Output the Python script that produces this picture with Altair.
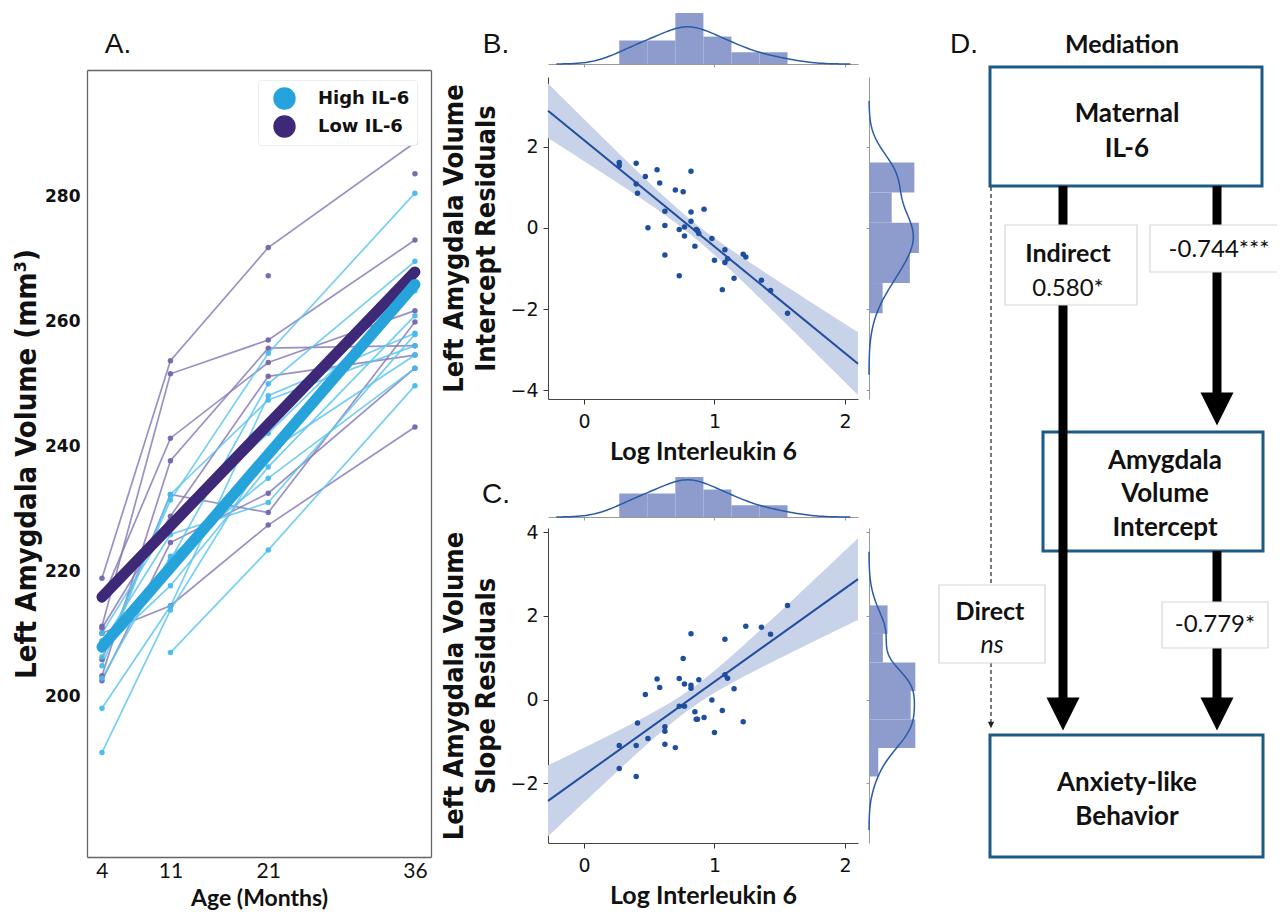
import altair as alt
import numpy as np
import pandas as pd

W, H = 1269, 906

# ---------------- Panel A: amygdala volume trajectories ----------------
ages = [4, 11, 21, 36]
groups = ["High IL-6", "Low IL-6"]
high_il6_volumes = [
    [206.4, 231.5, 255.0, 280.6],
    [209.0, 221.9, 250.1, 269.7],
    [198.2, 214.5, 248.2, 258.2],
    [191.1, 213.9, 239.2, 254.7],
    [205.0, 232.4, 247.5, 256.2],
    [207.5, 217.8, 236.8, 261.0],
    [None, 207.1, 223.5, 249.8],
    [210.2, 228.0, 242.2, 265.0],
    [203.0, 222.5, 235.0, 252.6],
    [208.5, 226.0, 231.1, 258.0],
]
low_il6_volumes = [
    [219.0, 253.8, 271.9, 288.7],
    [211.3, 251.7, 257.1, 273.1],
    [215.5, 241.4, 253.5, 261.8],
    [203.4, 237.8, 255.8, 256.2],
    [211.0, 228.9, 251.3, 254.7],
    [202.6, 224.7, 232.6, 252.6],
    [210.2, 214.6, 227.5, 243.2],
    [206.0, 232.4, 229.5, 260.0],
    [None, None, 267.4, None],
    [None, None, None, 283.7],
]
mean_ages = [4, 36]
high_il6_mean = [208.0, 266.0]
low_il6_mean = [216.0, 268.0]

# ---------------- Panels B & C: residuals vs log IL-6 ----------------
log_il6 = [0.27, 0.27, 0.40, 0.40, 0.41, 0.47, 0.49, 0.56, 0.58, 0.62, 0.62, 0.62, 0.70,
           0.73, 0.73, 0.76, 0.77, 0.77, 0.82, 0.82, 0.82, 0.85, 0.86, 0.87, 0.88, 0.92,
           0.98, 1.00, 1.06, 1.08, 1.08, 1.10, 1.15, 1.22, 1.24, 1.36, 1.43, 1.56]
intercept_residuals = [1.61, 1.53, 1.59, 1.08, 0.85, 1.26, 0.00, 1.43, 1.10, 0.41, 0.06, -0.67, 0.93,
                       -0.04, -1.18, 0.89, -0.20, 0.02, 1.39, 0.39, 0.16, -0.45, -0.04, -0.07, -0.14, 0.46,
                       -0.26, -0.80, -1.52, -0.54, -0.85, -0.76, -1.24, -0.65, -0.72, -1.29, -1.54, -2.10]
slope_residuals = [-1.10, -1.65, -1.10, -1.84, -0.56, 0.12, -0.93, 0.49, 0.29, -0.65, -0.76, -1.07, -1.15,
                   0.50, -0.16, 0.98, -0.16, 0.37, 1.57, 0.34, 0.27, -0.29, -0.47, -0.47, 0.47, -0.43,
                   -0.01, -0.79, -0.26, 1.44, 0.59, 0.51, 0.26, -0.53, 1.75, 1.73, 1.56, 2.25]
hist_bins_x = 6
hist_bins_intercept = 5
hist_bins_slope = 6

# ---------------- Panel D: mediation diagram text ----------------
panel_letters = ["A.", "B.", "C.", "D."]
mediation_title = ["Mediation"]
node_lines = [["Maternal", "IL-6"], ["Amygdala", "Volume", "Intercept"], ["Anxiety-like", "Behavior"]]
path_names = ["Indirect", "Direct"]
path_values = ["0.580*", "-0.744***", "-0.779*"]
direct_value = ["ns"]

# ---------------- layout (reference page pixels) ----------------
LETTER_POS = [(118, 45), (496, 45), (496, 495), (964, 45)]
D_TITLE_POS = [(1122, 45)]
D_BOXES = [(990, 1262, 67, 186), (1043, 1263, 432, 551), (990, 1263, 735, 857)]
D_NODE_TEXT_POS = [[(1127, 114), (1127, 149)], [(1165, 461), (1165, 494), (1165, 528)],
                   [(1127, 783), (1127, 817)]]
D_SHAFTS = [(1063, 186, 700), (1217, 186, 395), (1217, 551, 700)]
D_HEADS = [(1063, 714), (1217, 409), (1217, 714)]
D_DASH = [(991, 187, 722)]
D_DASH_HEAD = [(991, 725)]
D_LABEL_BOXES = [(1005, 1137, 225, 305), (1150, 1283, 225, 272), (939, 1045, 585, 663),
                 (1162, 1268, 602, 648)]
D_NAME_POS = [(1068, 254), (990, 612)]
D_VALUE_POS = [(1068, 289), (1219, 250), (1215, 625)]
D_NS_POS = [(992, 645)]

NARROW = "Liberation Sans Narrow, DejaVu Sans Condensed, Roboto Condensed, Roboto"
SANS = "Lato"
MPL = "DejaVu Sans"


def lin(dom, rng, clamp=False):
    if clamp:
        return alt.Scale(domain=dom, range=rng, zero=False, nice=False, clamp=True)
    return alt.Scale(domain=dom, range=rng, zero=False, nice=False)


def rng(a, b):
    return [a - 8, b - 8]


def off_left(px):
    return -(px - 8)


def off_bottom(py):
    return (py - 8) - H


def off_top(py):
    return -(py - 8)


def off_right(px):
    return (px - 8) - W


PX = lin([8, 8 + W], [0, W])
PY = lin([8, 8 + H], [0, H])

A_X = ([2.47, 37.64], rng(87, 431))
A_Y = ([174.4, 300.3], rng(857, 70))
BC_X = ([-0.276, 2.10], rng(548, 858))
B_Y = ([-4.21, 3.71], rng(399, 77))
C_Y = ([-3.43, 4.10], rng(843, 528))
BTOP_Y = ([0, 1.75], rng(64, 8))
CTOP_Y = ([0, 1.25], rng(517, 477))
BRIGHT_X = ([0, 0.45], rng(869, 926.6))
CRIGHT_X = ([0, 0.45], rng(869, 923))

layers = []

# ====================== Panel A ======================
rowsA = []
for grp, subjects in ((groups[1], low_il6_volumes), (groups[0], high_il6_volumes)):
    for i, vols in enumerate(subjects):
        for a, v in zip(ages, vols):
            if v is not None:
                rowsA.append({"subject": f"{grp}-{i}", "group": grp, "age": a, "volume": v})
dfA = pd.DataFrame(rowsA)
meanA = pd.DataFrame({"group": [groups[1]] * 2 + [groups[0]] * 2,
                      "age": mean_ages * 2,
                      "volume": low_il6_mean + high_il6_mean})

axA_x = alt.Axis(values=ages, orient="bottom", offset=off_bottom(857), tickSize=0, labelPadding=3,
                 labelFont=SANS, labelFontSize=21, labelColor="#111", domainColor="#666",
                 domainWidth=1.3, title="Age (Months)", titleFont=SANS, titleFontSize=23,
                 titleFontWeight="bold", titleColor="#111", titlePadding=6, grid=False)
axA_y = alt.Axis(values=[200, 220, 240, 260, 280], orient="left", offset=off_left(87), tickSize=0,
                 labelPadding=7, labelFont=MPL, labelFontWeight="bold", labelFontSize=17,
                 labelColor="#111", domainColor="#666", domainWidth=1.3,
                 title="Left Amygdala Volume (mm³)", titleFont=NARROW, titleFontSize=29,
                 titleFontWeight="bold", titleColor="#111", titlePadding=3, grid=False)
axA_top = alt.Axis(orient="top", offset=off_top(70), labels=False, ticks=False, title=None,
                   domainColor="#666", domainWidth=1.3, grid=False)
axA_right = alt.Axis(orient="right", offset=off_right(431), labels=False, ticks=False, title=None,
                     domainColor="#666", domainWidth=1.3, grid=False)

layers.append(alt.Chart(dfA).mark_line(strokeWidth=1.7, opacity=0.85).encode(
    x=alt.X("age:Q", scale=lin(*A_X), axis=axA_x),
    y=alt.Y("volume:Q", scale=lin(*A_Y), axis=axA_y),
    detail="subject:N",
    color=alt.Color("group:N", scale=alt.Scale(domain=groups, range=["#5ec5f0", "#8a7dba"]), legend=None),
))
layers.append(alt.Chart(dfA).mark_circle(size=30, opacity=0.95).encode(
    x=alt.X("age:Q", scale=lin(*A_X), axis=None),
    y=alt.Y("volume:Q", scale=lin(*A_Y), axis=None),
    color=alt.Color("group:N", scale=alt.Scale(domain=groups, range=["#46bbee", "#7565ad"]), legend=None),
))
layers.append(alt.Chart(meanA).mark_line(strokeWidth=11, strokeCap="round").encode(
    x=alt.X("age:Q", scale=lin(*A_X), axis=None),
    y=alt.Y("volume:Q", scale=lin(*A_Y), axis=None),
    detail="group:N",
    color=alt.Color("group:N", scale=alt.Scale(domain=groups, range=["#27a3dc", "#3d2977"]), legend=None),
))
layers.append(alt.Chart(meanA).mark_circle(size=80, opacity=1).encode(
    x=alt.X("age:Q", scale=lin(*A_X), axis=axA_top),
    y=alt.Y("volume:Q", scale=lin(*A_Y), axis=axA_right),
    color=alt.Color("group:N", scale=alt.Scale(domain=groups, range=["#27a3dc", "#3d2977"]),
                    legend=alt.Legend(orient="none", legendX=250, legendY=72, title=None,
                                      symbolType="circle", symbolSize=500, symbolStrokeWidth=0,
                                      symbolOpacity=1, labelFont=MPL, labelFontWeight="bold",
                                      labelFontSize=18, labelColor="#111", labelOffset=22,
                                      rowPadding=5, padding=7, symbolOffset=8,
                                      strokeColor="#ececec", fillColor="white", cornerRadius=3)),
))


# ====================== Panels B & C ======================
def ci_band(x, y, lo, hi, n=80):
    x = np.asarray(x, float)
    y = np.asarray(y, float)
    b, a = np.polyfit(x, y, 1)
    xs = np.linspace(lo, hi, n)
    fit = a + b * xs
    s = np.sqrt(((y - (a + b * x)) ** 2).sum() / (len(x) - 2))
    se = s * np.sqrt(1 / len(x) + (xs - x.mean()) ** 2 / ((x - x.mean()) ** 2).sum())
    return pd.DataFrame({"x": xs, "lo": fit - 2.03 * se, "hi": fit + 2.03 * se})


def hist_df(v, bins):
    counts, edges = np.histogram(np.asarray(v, float), bins=bins)
    dens = counts / (len(v) * np.diff(edges))
    return pd.DataFrame({"lo": edges[:-1], "hi": edges[1:], "density": dens})


def kde_params(v):
    v = np.asarray(v, float)
    iqr = np.subtract(*np.percentile(v, [75, 25]))
    bw = 1.059 * min(v.std(ddof=1), iqr / 1.349) * len(v) ** -0.2
    return float(bw), [float(v.min() - 3 * bw), float(v.max() + 3 * bw)]


BAR = "#8d9ccc"
KDE = "#2a5aa8"
DOT = "#1f4e9e"
BAND = "#c8d2e8"


def joint(resid, y_dom, ytitle, ybot_px, ytop_px, top_y, top_clamp, top_base_px, right_x,
          ticks_y, nbins):
    out = []
    df = pd.DataFrame({"il6": log_il6, "resid": resid})
    band = ci_band(log_il6, resid, BC_X[0][0], BC_X[0][1])
    yscale = lambda: lin(y_dom, rng(ybot_px, ytop_px))
    xscale = lambda: lin(*BC_X)
    ax_x = alt.Axis(values=[0, 1, 2], orient="bottom", offset=off_bottom(ybot_px), tickSize=5,
                    tickColor="#333", domainColor="#444", labelFont=MPL, labelFontSize=19,
                    labelColor="#111", labelPadding=8, format="d", title="Log Interleukin 6",
                    titleFont=SANS, titleFontSize=25, titleFontWeight="bold", titleColor="#111",
                    titlePadding=8, grid=False)
    ax_y = alt.Axis(values=ticks_y, orient="left", offset=off_left(548), tickSize=5,
                    tickColor="#333", domainColor="#444", labelFont=MPL, labelFontSize=19,
                    labelColor="#111", labelPadding=5, format="d", title=ytitle,
                    titleFont=NARROW, titleFontSize=27, titleFontWeight="bold", titleColor="#111",
                    titlePadding=9, titleLineHeight=32, grid=False)
    out.append(alt.Chart(band).mark_area(color=BAND, opacity=1).encode(
        x=alt.X("x:Q", scale=xscale(), axis=None),
        y=alt.Y("lo:Q", scale=yscale(), axis=None), y2="hi:Q"))
    out.append(alt.Chart(df).transform_regression("il6", "resid", extent=BC_X[0]).mark_line(
        color=DOT, strokeWidth=2).encode(
        x=alt.X("il6:Q", scale=xscale(), axis=None),
        y=alt.Y("resid:Q", scale=yscale(), axis=None)))
    out.append(alt.Chart(df).mark_circle(size=30, color=DOT, opacity=1).encode(
        x=alt.X("il6:Q", scale=xscale(), axis=ax_x),
        y=alt.Y("resid:Q", scale=yscale(), axis=ax_y)))

    # top marginal (log IL-6)
    hx = hist_df(log_il6, hist_bins_x)
    bwx, extx = kde_params(log_il6)
    top_scale = lambda: lin(top_y[0], top_y[1], clamp=top_clamp)
    ax_top = alt.Axis(values=[0, 1, 2], orient="bottom", offset=off_bottom(top_base_px), labels=False,
                      tickSize=3, tickColor="#999", domainColor="#999", title=None, grid=False)
    out.append(alt.Chart(hx).mark_rect(color=BAR).encode(
        x=alt.X("lo:Q", scale=xscale(), axis=ax_top), x2="hi:Q",
        y=alt.Y("density:Q", scale=top_scale(), axis=None), y2=alt.datum(0)))
    out.append(alt.Chart(df).transform_density(
        "il6", bandwidth=bwx, extent=extx, steps=160, as_=["value", "density"]).mark_line(
        color=KDE, strokeWidth=1.5).encode(
        x=alt.X("value:Q", scale=xscale(), axis=None),
        y=alt.Y("density:Q", scale=top_scale(), axis=None)))

    # right marginal (residuals)
    hr = hist_df(resid, nbins)
    bwr, extr = kde_params(resid)
    ax_right = alt.Axis(values=ticks_y, orient="left", offset=off_left(869), labels=False,
                        tickSize=3, tickColor="#999", domainColor="#999", title=None, grid=False)
    out.append(alt.Chart(hr).mark_rect(color=BAR).encode(
        y=alt.Y("lo:Q", scale=yscale(), axis=ax_right), y2="hi:Q",
        x=alt.X("density:Q", scale=lin(*right_x), axis=None), x2=alt.datum(0)))
    out.append(alt.Chart(df).transform_density(
        "resid", bandwidth=bwr, extent=extr, steps=160, as_=["value", "density"]).mark_line(
        color=KDE, strokeWidth=1.5).encode(
        y=alt.Y("value:Q", scale=yscale(), axis=None),
        x=alt.X("density:Q", scale=lin(*right_x), axis=None),
        order=alt.Order("value:Q")))
    return out


layers += joint(intercept_residuals, B_Y[0], ["Left Amygdala Volume", "Intercept Residuals"],
                399, 77, BTOP_Y, False, 64, BRIGHT_X, [-4, -2, 0, 2], hist_bins_intercept)
layers += joint(slope_residuals, C_Y[0], ["Left Amygdala Volume", "Slope Residuals"],
                843, 528, CTOP_Y, True, 517, CRIGHT_X, [-2, 0, 2, 4], hist_bins_slope)

# ====================== Panel D ======================
boxes = pd.DataFrame(D_BOXES, columns=["x0", "x1", "y0", "y1"])
label_boxes = pd.DataFrame(D_LABEL_BOXES, columns=["x0", "x1", "y0", "y1"])
shafts = pd.DataFrame(D_SHAFTS, columns=["x", "y0", "y1"])
heads = pd.DataFrame(D_HEADS, columns=["x", "y"])
dash = pd.DataFrame(D_DASH, columns=["x", "y0", "y1"])
dash_head = pd.DataFrame(D_DASH_HEAD, columns=["x", "y"])


def px(f):
    return alt.X(f, scale=PX, axis=None)


def py(f):
    return alt.Y(f, scale=PY, axis=None)


layers.append(alt.Chart(boxes).mark_rect(fill="white", stroke="#1d5a86", strokeWidth=3).encode(
    x=px("x0:Q"), x2="x1:Q", y=py("y0:Q"), y2="y1:Q"))
layers.append(alt.Chart(shafts).mark_rule(color="black", strokeWidth=9).encode(
    x=px("x:Q"), y=py("y0:Q"), y2="y1:Q"))
layers.append(alt.Chart(heads).mark_point(shape="M-1,-1L1,-1L0,1Z", filled=True, size=1089,
                                          color="black", opacity=1).encode(x=px("x:Q"), y=py("y:Q")))
layers.append(alt.Chart(dash).mark_rule(color="#222", strokeWidth=1.2, strokeDash=[4, 3]).encode(
    x=px("x:Q"), y=py("y0:Q"), y2="y1:Q"))
layers.append(alt.Chart(dash_head).mark_point(shape="M-1,-1L1,-1L0,1Z", filled=True, size=40,
                                              color="#222", opacity=1).encode(x=px("x:Q"), y=py("y:Q")))
layers.append(alt.Chart(label_boxes).mark_rect(fill="white", stroke="#d6d6d6", strokeWidth=1.2).encode(
    x=px("x0:Q"), x2="x1:Q", y=py("y0:Q"), y2="y1:Q"))


def text_df(texts, pos):
    return pd.DataFrame({"text": texts, "x": [p[0] for p in pos], "y": [p[1] for p in pos]})


node_df = text_df([t for lines in node_lines for t in lines],
                  [p for ps in D_NODE_TEXT_POS for p in ps])
layers.append(alt.Chart(node_df).mark_text(font=SANS, fontSize=26, fontWeight="bold", color="#111",
                                           align="center", baseline="middle").encode(
    x=px("x:Q"), y=py("y:Q"), text="text:N"))
layers.append(alt.Chart(text_df(path_names, D_NAME_POS)).mark_text(
    font=SANS, fontSize=25, fontWeight="bold", color="#111", align="center", baseline="middle").encode(
    x=px("x:Q"), y=py("y:Q"), text="text:N"))
layers.append(alt.Chart(text_df(path_values, D_VALUE_POS)).mark_text(
    font=SANS, fontSize=24, color="#111", align="center", baseline="middle").encode(
    x=px("x:Q"), y=py("y:Q"), text="text:N"))
layers.append(alt.Chart(text_df(direct_value, D_NS_POS)).mark_text(
    font=SANS, fontSize=25, fontStyle="italic", color="#111", align="center", baseline="middle").encode(
    x=px("x:Q"), y=py("y:Q"), text="text:N"))
layers.append(alt.Chart(text_df(mediation_title, D_TITLE_POS)).mark_text(
    font=SANS, fontSize=25, fontWeight="bold", color="#111", align="center", baseline="middle").encode(
    x=px("x:Q"), y=py("y:Q"), text="text:N"))
layers.append(alt.Chart(text_df(panel_letters, LETTER_POS)).mark_text(
    font="Liberation Sans", fontSize=28, color="#111", align="center", baseline="middle").encode(
    x=px("x:Q"), y=py("y:Q"), text="text:N"))

chart = alt.layer(*layers).resolve_scale(
    x="independent", y="independent", color="independent"
).resolve_axis(
    x="independent", y="independent"
).properties(
    width=W, height=H, padding=0, background="white",
    autosize=alt.AutoSizeParams(type="none"),
).configure_view(stroke=None).configure_axis(grid=False)

chart.save("out.html", embed_options={"renderer": "svg", "actions": False})
